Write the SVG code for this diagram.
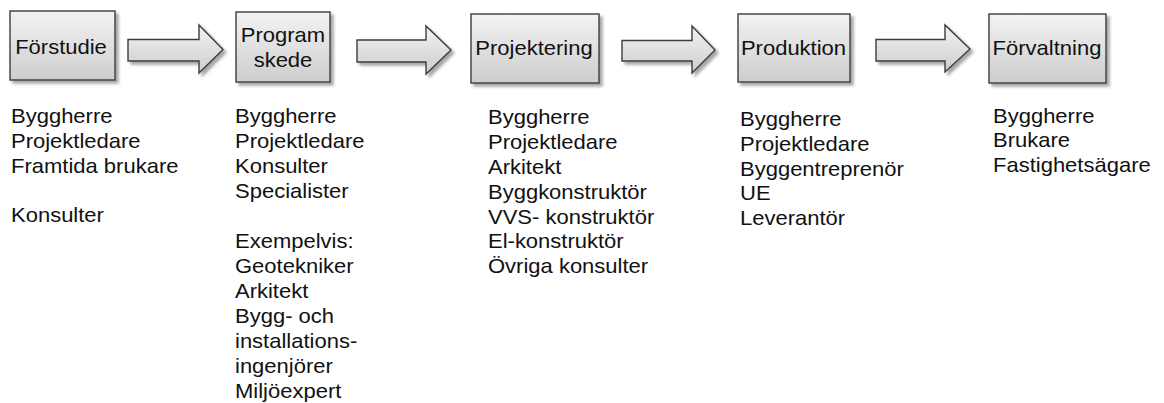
<svg xmlns="http://www.w3.org/2000/svg" width="1164" height="403" viewBox="0 0 1164 403">
  <style>
    .box { fill: url(#boxFill); stroke: #3c3c3c; stroke-width: 1.4; filter: url(#shadow); }
    .arrow { fill: url(#boxFill); stroke: #3c3c3c; stroke-width: 1.4; stroke-linejoin: miter; filter: url(#shadow); }
    .label { font-family: "Liberation Sans", Arial, sans-serif; font-size: 20px; fill: #111; text-anchor: middle; }
    .list { font-family: "Liberation Sans", Arial, sans-serif; font-size: 20px; fill: #111; }
  </style>
  <defs>
    <linearGradient id="boxFill" x1="0" y1="0" x2="0" y2="1">
      <stop offset="0" stop-color="#f3f3f3"/>
      <stop offset="1" stop-color="#cdcdcd"/>
    </linearGradient>
    <filter id="shadow" x="-10%" y="-10%" width="130%" height="140%">
      <feDropShadow dx="3" dy="3" stdDeviation="1.6" flood-color="#000" flood-opacity="0.35"/>
    </filter>
  </defs>
  <rect width="1164" height="403" fill="#ffffff"/>

  <!-- phase arrows -->
  <g id="connectors">
    <path class="arrow" d="M128,39.5 H199 V25 L223,49.5 L199,73 V61 H128 Z"/>
    <path class="arrow" d="M357,40 H426 V26 L451,50 L426,74 V62 H357 Z"/>
    <path class="arrow" d="M622,40.5 H692 V26 L715,50 L692,73 V61 H622 Z"/>
    <path class="arrow" d="M876,39.5 H945 V25 L970,49 L945,72 V61 H876 Z"/>
  </g>

  <!-- phases -->
  <g id="forstudie">
    <rect class="box" x="10" y="11" width="105" height="69"/>
    <text class="label" transform="translate(61,54) scale(1.1,1)">Förstudie</text>
  </g>
  <g id="programskede">
    <rect class="box" x="236" y="12" width="94" height="70"/>
    <text class="label" transform="translate(283,41.5) scale(1.1,1)">Program</text>
    <text class="label" transform="translate(283,67) scale(1.1,1)">skede</text>
  </g>
  <g id="projektering">
    <rect class="box" x="471" y="14" width="128" height="69"/>
    <text class="label" transform="translate(534,55) scale(1.1,1)">Projektering</text>
  </g>
  <g id="produktion">
    <rect class="box" x="738" y="14" width="112" height="68"/>
    <text class="label" transform="translate(793.5,54.5) scale(1.1,1)">Produktion</text>
  </g>
  <g id="forvaltning">
    <rect class="box" x="989" y="14" width="117" height="69"/>
    <text class="label" transform="translate(1047,54.5) scale(1.1,1)">Förvaltning</text>
  </g>

  <!-- participants per phase -->
  <g id="actors-forstudie" transform="translate(11,0) scale(1.1,1)">
    <text class="list" x="0" y="123.5">
      <tspan x="0">Byggherre</tspan>
      <tspan x="0" dy="24.7">Projektledare</tspan>
      <tspan x="0" dy="24.7">Framtida brukare</tspan>
      <tspan x="0" dy="49.4">Konsulter</tspan>
    </text>
  </g>
  <g id="actors-programskede" transform="translate(235,0) scale(1.1,1)">
    <text class="list" x="0" y="123">
      <tspan x="0">Byggherre</tspan>
      <tspan x="0" dy="25">Projektledare</tspan>
      <tspan x="0" dy="25">Konsulter</tspan>
      <tspan x="0" dy="25">Specialister</tspan>
      <tspan x="0" dy="50">Exempelvis:</tspan>
      <tspan x="0" dy="25">Geotekniker</tspan>
      <tspan x="0" dy="25">Arkitekt</tspan>
      <tspan x="0" dy="25">Bygg- och</tspan>
      <tspan x="0" dy="25">installations-</tspan>
      <tspan x="0" dy="25">ingenjörer</tspan>
      <tspan x="0" dy="25">Miljöexpert</tspan>
    </text>
  </g>
  <g id="actors-projektering" transform="translate(488,0) scale(1.1,1)">
    <text class="list" x="0" y="124.5">
      <tspan x="0">Byggherre</tspan>
      <tspan x="0" dy="24.8">Projektledare</tspan>
      <tspan x="0" dy="24.8">Arkitekt</tspan>
      <tspan x="0" dy="24.8">Byggkonstruktör</tspan>
      <tspan x="0" dy="24.8">VVS- konstruktör</tspan>
      <tspan x="0" dy="24.8">El-konstruktör</tspan>
      <tspan x="0" dy="24.8">Övriga konsulter</tspan>
    </text>
  </g>
  <g id="actors-produktion" transform="translate(740,0) scale(1.1,1)">
    <text class="list" x="0" y="126">
      <tspan x="0">Byggherre</tspan>
      <tspan x="0" dy="24.8">Projektledare</tspan>
      <tspan x="0" dy="24.8">Byggentreprenör</tspan>
      <tspan x="0" dy="24.8">UE</tspan>
      <tspan x="0" dy="24.8">Leverantör</tspan>
    </text>
  </g>
  <g id="actors-forvaltning" transform="translate(993,0) scale(1.1,1)">
    <text class="list" x="0" y="123">
      <tspan x="0">Byggherre</tspan>
      <tspan x="0" dy="24.5">Brukare</tspan>
      <tspan x="0" dy="24.5">Fastighetsägare</tspan>
    </text>
  </g>
</svg>
